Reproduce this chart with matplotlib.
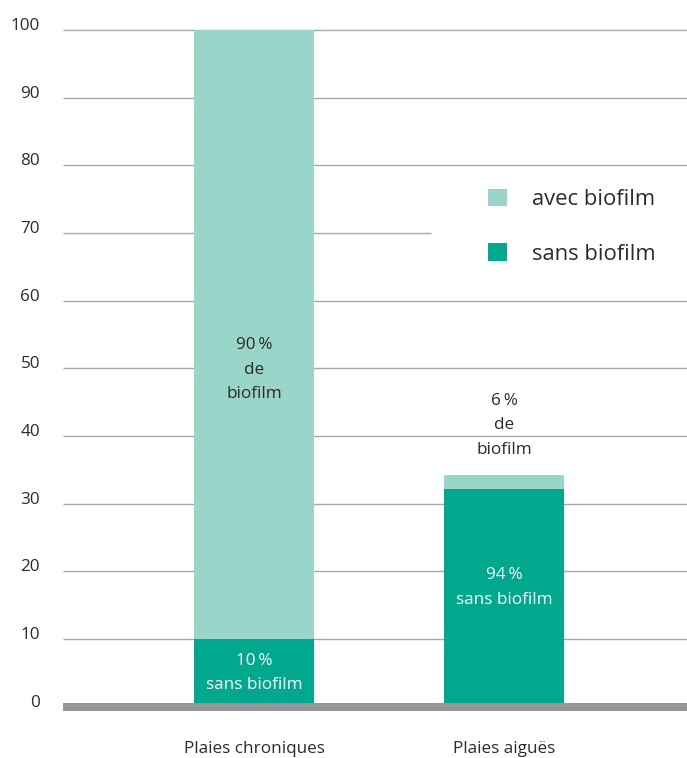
import matplotlib
matplotlib.use("Agg")
import matplotlib.pyplot as plt
from matplotlib.patches import Patch

plt.rcParams['font.family'] = ['Open Sans', 'DejaVu Sans']

categories = ["Plaies chroniques", "Plaies aiguës"]
sans_biofilm = [10, 32.1]
avec_biofilm = [90, 2.1]
series_labels = ["avec biofilm", "sans biofilm"]
yticks = [0, 10, 20, 30, 40, 50, 60, 70, 80, 90, 100]
annot_avec = ["90\u2009%\nde\nbiofilm", "6\u2009%\nde\nbiofilm"]
annot_avec_y = [49.8, 41.6]
annot_sans = ["10\u2009%\nsans biofilm", "94\u2009%\nsans biofilm"]
annot_sans_y = [5.0, 17.6]

C_LIGHT = "#9AD5CA"
C_DARK = "#00A88E"
C_GRID = "#A7A7A7"
C_BASE = "#939598"
C_TEXT = "#2B2B2B"

W, H = 687, 758
fig = plt.figure(figsize=(W / 100, H / 100), dpi=100)
ax = fig.add_axes([63 / W, (H - 706.7) / H, (W - 63) / W, (706.7 - 30) / H])

x = list(range(len(categories)))
ax.set_xlim(-0.764, 1.732)
ax.set_ylim(0, 100)

# gridlines
for v in yticks[1:]:
    xmax = 0.589 if v == 70 else 1.0
    ax.axhline(v, xmin=0, xmax=xmax, color=C_GRID, lw=1.0, zorder=1,
               clip_on=False, solid_capstyle="butt")

ax.bar(x, sans_biofilm, width=0.48, color=C_DARK, zorder=2)
ax.bar(x, avec_biofilm, bottom=sans_biofilm, width=0.48, color=C_LIGHT, zorder=2)

# baseline
ax.axhline(0, color=C_BASE, lw=5.8, zorder=3, clip_on=False, solid_capstyle="butt")

for xi, t, yv in zip(x, annot_avec, annot_avec_y):
    ax.text(xi, yv, t, ha="center", va="center", fontsize=12.3, color=C_TEXT,
            linespacing=1.7, zorder=4)
for xi, t, yv in zip(x, annot_sans, annot_sans_y):
    ax.text(xi, yv, t, ha="center", va="center", fontsize=12.3, color="white",
            linespacing=1.7, zorder=4)

for s in ax.spines.values():
    s.set_visible(False)

ax.set_yticks(yticks)
ax.set_yticklabels([str(v) for v in yticks])
ax.tick_params(axis="y", length=0, pad=16.5, labelsize=12.3, labelcolor=C_TEXT)
for lab in ax.get_yticklabels():
    lab.set_verticalalignment("baseline")

ax.set_xticks(x)
ax.set_xticklabels(categories)
ax.tick_params(axis="x", length=0, pad=24.5, labelsize=12.3, labelcolor=C_TEXT)

handles = [Patch(facecolor=C_LIGHT, edgecolor="none"), Patch(facecolor=C_DARK, edgecolor="none")]
ax.legend(handles, series_labels, loc="upper left", bbox_to_anchor=(477 / W, 1 - 178 / H),
          bbox_transform=fig.transFigure, frameon=False, fontsize=15.8, borderpad=0,
          handlelength=0.85, handleheight=0.85, handletextpad=1.15, labelspacing=1.5,
          labelcolor=C_TEXT)

fig.savefig("out.png", dpi=100)
